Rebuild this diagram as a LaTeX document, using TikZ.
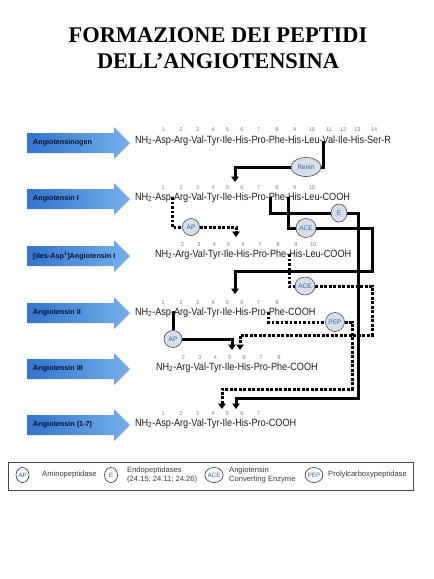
\documentclass[tikz,border=0pt]{standalone}
\usepackage{fontspec}
\setmainfont{Liberation Serif}
\setsansfont{Liberation Sans}
\newfontfamily\pepfont[FakeStretch=0.87]{Liberation Sans}
\newfontfamily\lblfont{Liberation Sans}
\usetikzlibrary{arrows.meta,calc,shapes.geometric}
\pgfdeclarelayer{background}
\pgfsetlayers{background,main}
\definecolor{arrowdark}{RGB}{48,116,204}
\definecolor{arrowlight}{RGB}{118,176,234}
\definecolor{enzfill}{RGB}{215,222,232}
\definecolor{enzdraw}{RGB}{70,75,90}
\definecolor{enztext}{RGB}{50,95,170}
\definecolor{numcol}{RGB}{110,125,150}
\definecolor{peptext}{RGB}{30,30,30}
\definecolor{legtext}{RGB}{60,60,60}

\newcommand\chain[7]{%
  \node[pep,anchor=base west] (#1-0) at (#2,#3) {NH\textsubscript{2}};
  \foreach \r/\n [count=\i, remember=\i as \j (initially 0)] in {#4} {
    \node[pep,anchor=base west] (#1-h\i) at (#1-\j.base east) {-};
    \node[pep,anchor=base west] (#1-\i) at (#1-h\i.base east) {\r};
    \node[num,anchor=base] (#1-n\i) at ([yshift=#7]#1-\i.base) {\n};
  }
  \node[pep,anchor=base west] (#1-end) at (#1-#5.base east) {#6};
}
\newcommand\barrow[3]{%
  \shade[left color=arrowdark,right color=arrowlight]
    (27,#2-10) -- (114,#2-10) -- (114,#2-16) -- (130,#2) -- (114,#2+16)
    -- (114,#2+10) -- (27,#2+10) -- cycle;
  \node[albl,anchor=west] (#1) at (33,#2) {#3};
}

\begin{document}
\begin{tikzpicture}[x=1pt,y=-1pt,
  pep/.style={inner sep=0pt,outer sep=0pt,text=peptext,font=\pepfont\fontsize{10.5}{12}\selectfont},
  num/.style={inner sep=0pt,outer sep=0pt,text=numcol,font=\lblfont\fontsize{5.5}{6}\selectfont},
  albl/.style={inner sep=0pt,text={rgb,255:red,10;green,15;blue,45},font=\lblfont\bfseries\fontsize{7.2}{8}\selectfont},
  enz/.style={ellipse,draw=enzdraw,line width=0.6pt,fill=enzfill,inner sep=0pt,text=enztext,font=\lblfont\fontsize{6.5}{7}\selectfont},
  legenz/.style={ellipse,draw={rgb,255:red,40;green,50;blue,80},line width=0.6pt,fill=white,inner sep=0pt,minimum width=13pt,minimum height=15pt,text=enztext,font=\lblfont\fontsize{6.3}{7}\selectfont},
  legtxt/.style={inner sep=0pt,text=legtext,align=left,font=\lblfont\fontsize{7.6}{8.6}\selectfont},
  thick line/.style={line width=3pt,line join=miter},
  dots/.style={dash pattern=on 2.8pt off 1.7pt},
  tip/.style={-{Triangle[width=7.5pt,length=5.5pt]}}
]
\useasboundingbox (0,0) rectangle (434,579);
\begin{pgfonlayer}{background}
\fill[white] (0,0) rectangle (434,579);
\end{pgfonlayer}

% title
\node[font=\bfseries\fontsize{22.4}{26}\selectfont,anchor=base] (title1) at (218,42) {FORMAZIONE DEI PEPTIDI};
\node[font=\bfseries\fontsize{22.4}{26}\selectfont,anchor=base] (title2) at (218,68) {DELL’ANGIOTENSINA};

% blue arrows
\barrow{lab1}{143}{Angiotensinogen}
\barrow{lab2}{199}{Angiotensin I}
\barrow{lab3}{256}{[des-Asp\textsuperscript{1}]Angiotensin I}
\barrow{lab4}{313}{Angiotensin II}
\barrow{lab5}{369}{Angiotensin III}
\barrow{lab6}{425}{Angiotensin (1-7)}

% peptide chains
\chain{p1}{135}{143}{Asp/1,Arg/2,Val/3,Tyr/4,Ile/5,His/6,Pro/7,Phe/8,His/9,Leu/10,Val/11,Ile/12,His/13,Ser/14}{14}{-R}{12pt}
\chain{p2}{135}{200}{Asp/1,Arg/2,Val/3,Tyr/4,Ile/5,His/6,Pro/7,Phe/8,His/9,Leu/10}{10}{-COOH}{11pt}
\chain{p3}{155}{257}{Arg/2,Val/3,Tyr/4,Ile/5,His/6,Pro/7,Phe/8,His/9,Leu/10}{9}{-COOH}{11pt}
\chain{p4}{135}{315}{Asp/1,Arg/2,Val/3,Tyr/4,Ile/5,His/6,Pro/7,Phe/8}{8}{-COOH}{11pt}
\chain{p5}{156}{370}{Arg/2,Val/3,Tyr/4,Ile/5,His/6,Pro/7,Phe/8}{7}{-COOH}{11pt}
\chain{p6}{135}{426}{Asp/1,Arg/2,Val/3,Tyr/4,Ile/5,His/6,Pro/7}{7}{-COOH}{11pt}

% cleavage sites, bends and arrow targets
\coordinate (sRen) at (323,141);
\coordinate (tRen) at (235,182);
\coordinate (sAP1) at (172,197);
\coordinate (tAP1) at (236,237);
\coordinate (sE) at (270,197);
\coordinate (kE) at (358,398);
\coordinate (tE) at (236,409);
\coordinate (sACE1) at (288,197);
\coordinate (kACE1) at (372,271);
\coordinate (tACE1) at (235,294);
\coordinate (sACE2) at (289,254);
\coordinate (kACE2) at (372,335);
\coordinate (tACE2) at (240,350);
\coordinate (sAP2) at (173,311);
\coordinate (tAP2) at (232,350);
\coordinate (sPEP) at (268,312);
\coordinate (kPEP) at (352,389);
\coordinate (tPEP) at (222,409);

% enzymes
\node[enz,minimum width=30pt,minimum height=19pt] (renin) at (306,167) {Renin};
\node[enz,minimum width=17pt,minimum height=17pt] (ap1) at (191,227) {AP};
\node[enz,minimum width=16pt,minimum height=18pt] (e1) at (339,213) {E};
\node[enz,minimum width=20pt,minimum height=19pt] (ace1) at (306,228) {ACE};
\node[enz,minimum width=20pt,minimum height=18pt] (ace2) at (305,286) {ACE};
\node[enz,minimum width=18pt,minimum height=17pt] (ap2) at (173,339) {AP};
\node[enz,minimum width=19pt,minimum height=19pt] (pep) at (335,322) {PEP};

% connectors (behind the enzymes)
\begin{pgfonlayer}{background}
\draw[thick line] (sRen) |- (renin.east);
\draw[thick line,tip] (renin.west) -| (tRen);

\draw[thick line,dots] (sAP1) |- (ap1.west);
\draw[thick line,dots,tip] (ap1.east) -| (tAP1);

\draw[thick line] (sE) |- (e1.west);
\draw[thick line,tip] (e1.east) -| (kE) -| (tE);

\draw[thick line] (sACE1) |- (ace1.west);
\draw[thick line,tip] (ace1.east) -| (kACE1) -| (tACE1);

\draw[thick line,dots] (sACE2) |- (ace2.west);
\draw[thick line,dots,tip] (ace2.east) -| (kACE2) -| (tACE2);

\draw[thick line] (sAP2) -- (ap2.north);
\draw[thick line,tip] (ap2.east) -| (tAP2);

\draw[thick line,dots] (sPEP) |- (pep.west);
\draw[thick line,dots,tip] (pep.east) -| (kPEP) -| (tPEP);
\end{pgfonlayer}

% legend
\node[draw={rgb,255:red,70;green,70;blue,70},line width=0.7pt,minimum width=405pt,minimum height=28pt,inner sep=0pt] (legend) at (210.5,476) {};
\node[legenz] (lAP) at (22.5,475) {AP};
\node[legtxt,anchor=west] (lAPt) at (42,475) {Aminopeptidase};
\node[legenz] (lE) at (111,475) {E};
\node[legtxt,anchor=west] (lEt) at (127,475) {Endopeptidases\\(24.15; 24.11; 24.26)};
\node[legenz] (lACE) at (214,475) {ACE};
\node[legtxt,anchor=west] (lACEt) at (229,475) {Angiotensin\\Converting Enzyme};
\node[legenz] (lPEP) at (314,475) {PEP};
\node[legtxt,anchor=west] (lPEPt) at (328,475) {Prolylcarboxypeptidase};
\end{tikzpicture}
\end{document}
